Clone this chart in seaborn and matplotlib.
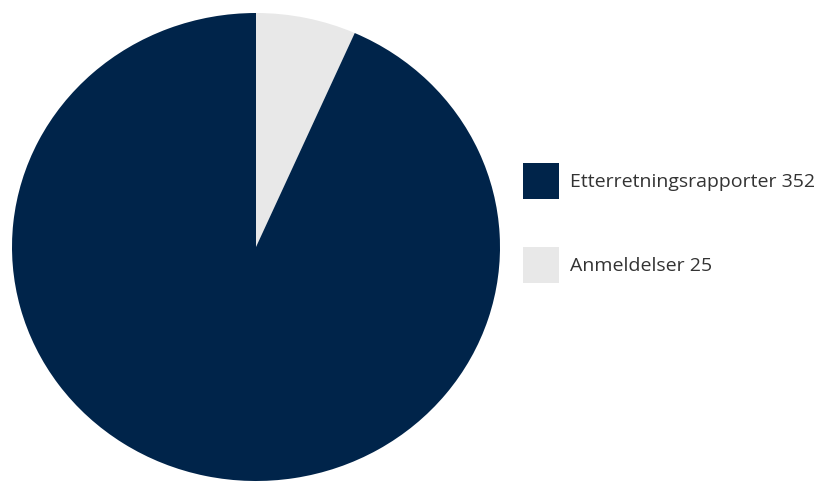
import matplotlib
matplotlib.use("Agg")
import matplotlib.pyplot as plt
import seaborn as sns
from matplotlib.patches import Rectangle

sns.set_theme(style="white")
plt.rcParams['font.family'] = ['Open Sans', 'DejaVu Sans']

categories = ["Etterretningsrapporter", "Anmeldelser"]
values = [352, 25]
colors = ["#00244a", "#e8e8e8"]

W, H = 830, 485
fig = plt.figure(figsize=(W / 100, H / 100), dpi=100)

# pie box in pixels: x 12..500, y 14..482
x0, x1, y0, y1 = 12, 500, 14, 482
ax = fig.add_axes([x0 / W, 1 - y1 / H, (x1 - x0) / W, (y1 - y0) / H])
ax.pie([values[1], values[0]], colors=[colors[1], colors[0]], startangle=90,
       counterclock=False, wedgeprops=dict(linewidth=0))
ax.set_aspect('auto')
ax.set_xlim(-1, 1)
ax.set_ylim(-1, 1)
ax.axis('off')

# legend
boxes = [(523, 164), (523, 248)]
for (bx, by), cat, val, col in zip(boxes, categories, values, colors):
    fig.patches.append(Rectangle((bx / W, 1 - (by + 36) / H), 36 / W, 36 / H,
                                 transform=fig.transFigure, facecolor=col,
                                 edgecolor='none'))
    fig.text(570 / W, 1 - (by + 18) / H, f"{cat} {val}", fontsize=14,
             color="#333333", va='center', ha='left')

fig.savefig("out.png", dpi=100)
